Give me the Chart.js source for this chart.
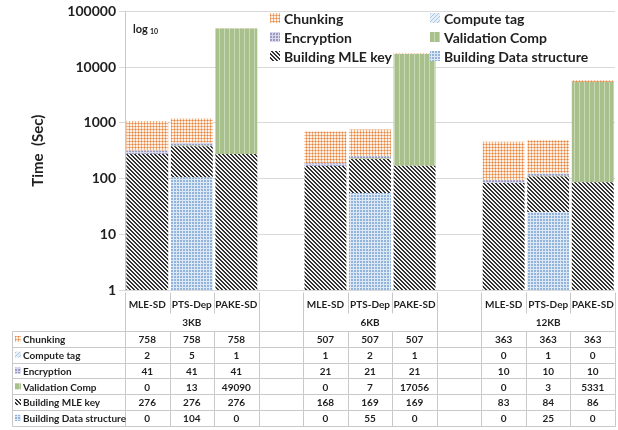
<!DOCTYPE html>
<html>
<head>
<meta charset="utf-8">
<script src="https://cdn.jsdelivr.net/npm/chart.js@4.4.0/dist/chart.umd.min.js"></script>
<style>
  html, body { margin: 0; padding: 0; background: #fff; }
</style>
</head>
<body>
<canvas id="chart" width="618" height="430"></canvas>
<script>
const sizes = ['3KB', '6KB', '12KB'];
const schemes = ['MLE-SD', 'PTS-Dep', 'PAKE-SD'];
const yTicks = [1, 10, 100, 1000, 10000, 100000];

// one value per bar: 3KB x3, 6KB x3, 12KB x3
const chunking = [758, 758, 758, 507, 507, 507, 363, 363, 363];
const computeTag = [2, 5, 1, 1, 2, 1, 0, 1, 0];
const encryption = [41, 41, 41, 21, 21, 21, 10, 10, 10];
const validationComp = [0, 13, 49090, 0, 7, 17056, 0, 3, 5331];
const buildingMleKey = [276, 276, 276, 168, 169, 169, 83, 84, 86];
const buildingDataStructure = [0, 104, 0, 0, 55, 0, 0, 25, 0];

const FONT = 'Lato, "Open Sans", sans-serif';

// empty spacer column between each size group
const labels = [];
sizes.forEach((size, g) => {
  schemes.forEach(s => labels.push(s));
  if (g < sizes.length - 1) labels.push('');
});

function spread(values) {
  const out = [];
  values.forEach((v, i) => {
    out.push(v);
    if (i % 3 === 2 && i < values.length - 1) out.push(null);
  });
  return out;
}

function makePattern(w, h, draw) {
  const c = document.createElement('canvas');
  c.width = w;
  c.height = h;
  const p = c.getContext('2d');
  draw(p);
  return document.getElementById('chart').getContext('2d').createPattern(c, 'repeat');
}

const patterns = {
  chunking: makePattern(3, 3, p => {
    p.fillStyle = '#fdf0e4'; p.fillRect(0, 0, 3, 3);
    p.fillStyle = '#f2b282'; p.fillRect(0, 0, 3, 1); p.fillRect(0, 0, 1, 3);
    p.fillStyle = '#e2834a'; p.fillRect(0, 0, 1, 1);
  }),
  computeTag: makePattern(4, 4, p => {
    p.fillStyle = '#e6eff8'; p.fillRect(0, 0, 4, 4);
    p.fillStyle = '#a9c6e4';
    for (let i = 0; i < 4; i++) p.fillRect(3 - i, i, 1, 1);
  }),
  encryption: makePattern(3, 3, p => {
    p.fillStyle = '#d8d8ea'; p.fillRect(0, 0, 3, 3);
    p.fillStyle = '#9b9bc4'; p.fillRect(0, 0, 2, 2);
  }),
  validation: makePattern(5, 1, p => {
    p.fillStyle = '#a8c18c'; p.fillRect(0, 0, 5, 1);
    p.fillStyle = '#c9d9b6'; p.fillRect(4, 0, 1, 1);
  }),
  mleKey: makePattern(4, 4, p => {
    p.fillStyle = '#f4f4f4'; p.fillRect(0, 0, 4, 4);
    p.fillStyle = '#333333';
    for (let i = 0; i < 4; i++) {
      p.fillRect(i, i, 1, 1);
      p.fillRect((i + 1) % 4, i, 1, 1);
    }
  }),
  dataStructure: makePattern(3, 3, p => {
    p.fillStyle = '#92b4dc'; p.fillRect(0, 0, 3, 3);
    p.fillStyle = '#dde8f5'; p.fillRect(2, 0, 1, 3); p.fillRect(0, 2, 3, 1);
  })
};

// stacking order: first entry sits at the bottom
const series = [
  { label: 'Building Data structure', values: buildingDataStructure, fill: patterns.dataStructure },
  { label: 'Building MLE key', values: buildingMleKey, fill: patterns.mleKey },
  { label: 'Validation Comp', values: validationComp, fill: patterns.validation },
  { label: 'Encryption', values: encryption, fill: patterns.encryption },
  { label: 'Compute tag', values: computeTag, fill: patterns.computeTag },
  { label: 'Chunking', values: chunking, fill: patterns.chunking }
];
const legendOrder = series.slice().reverse();

const legendPlugin = {
  id: 'gridLegend',
  afterDatasetsDraw(chart) {
    const ctx = chart.ctx;
    const colX = [270, 430];
    const rowY = [18, 37, 56];
    ctx.save();
    ctx.font = 'bold 14px ' + FONT;
    ctx.textBaseline = 'middle';
    legendOrder.forEach((s, i) => {
      const x = colX[i % 2];
      const y = rowY[Math.floor(i / 2)];
      ctx.fillStyle = s.fill;
      ctx.fillRect(x, y - 5, 10, 10);
      ctx.fillStyle = '#1f1f1f';
      ctx.fillText(s.label, x + 14, y + 1);
    });
    // log10 note
    ctx.fillStyle = '#1f1f1f';
    ctx.font = 'bold 11px ' + FONT;
    ctx.fillText('log', 133, 29);
    ctx.font = 'bold 7px ' + FONT;
    ctx.fillText('10', 150, 32);
    ctx.restore();
  }
};

const tablePlugin = {
  id: 'dataTable',
  afterDraw(chart) {
    const ctx = chart.ctx;
    const x = chart.scales.x;
    const n = labels.length;
    const colW = (chart.chartArea.right - chart.chartArea.left) / n;
    const edge = i => x.getPixelForValue(0) - colW / 2 + i * colW;
    const top = 292;
    const headMid = 313;
    const dataTop = 331;
    const rowH = 15.8;
    const tableLeft = 12;

    ctx.save();
    ctx.strokeStyle = '#c9c9c9';
    ctx.lineWidth = 1;
    const line = (x1, y1, x2, y2) => {
      ctx.beginPath();
      ctx.moveTo(Math.round(x1) + 0.5, Math.round(y1) + 0.5);
      ctx.lineTo(Math.round(x2) + 0.5, Math.round(y2) + 0.5);
      ctx.stroke();
    };

    // header grid
    sizes.forEach((size, g) => {
      const start = g * 4;
      for (let k = 0; k <= 3; k++) {
        const bottom = (k === 0 || k === 3) ? dataTop : headMid;
        line(edge(start + k), top, edge(start + k), bottom);
      }
    });

    // body grid
    const rows = legendOrder.length;
    for (let r = 0; r <= rows; r++) {
      line(tableLeft, dataTop + r * rowH, edge(n), dataTop + r * rowH);
    }
    const bottom = dataTop + rows * rowH;
    line(tableLeft, dataTop, tableLeft, bottom);
    for (let i = 0; i <= n; i++) line(edge(i), dataTop, edge(i), bottom);

    ctx.fillStyle = '#1f1f1f';
    ctx.textBaseline = 'middle';
    ctx.textAlign = 'center';
    ctx.font = 'bold 10px ' + FONT;
    labels.forEach((lab, i) => {
      if (lab) ctx.fillText(lab, x.getPixelForValue(i), 305);
    });
    sizes.forEach((size, g) => {
      ctx.fillText(size, x.getPixelForValue(g * 4 + 1), 323);
    });

    legendOrder.forEach((s, r) => {
      const y = dataTop + r * rowH + rowH / 2;
      ctx.fillStyle = s.fill;
      ctx.fillRect(tableLeft + 3, y - 3, 6, 6);
      ctx.fillStyle = '#1f1f1f';
      ctx.textAlign = 'left';
      ctx.fillText(s.label, tableLeft + 11, y + 1);
      ctx.textAlign = 'center';
      spread(s.values).forEach((v, i) => {
        if (v !== null) ctx.fillText(String(v), x.getPixelForValue(i), y + 1);
      });
    });
    ctx.restore();
  }
};

new Chart(document.getElementById('chart'), {
  type: 'bar',
  data: {
    labels: labels,
    datasets: series.map(s => ({
      label: s.label,
      data: spread(s.values),
      backgroundColor: s.fill,
      borderWidth: 0,
      barPercentage: 0.94,
      categoryPercentage: 1
    }))
  },
  options: {
    responsive: false,
    animation: false,
    layout: { padding: { left: 25, right: 3, top: 10, bottom: 140 } },
    plugins: {
      legend: { display: false },
      tooltip: { enabled: false }
    },
    scales: {
      x: { display: false, stacked: true, offset: true },
      y: {
        type: 'logarithmic',
        stacked: true,
        min: 1,
        max: 100000,
        afterFit: s => { s.width = 100; },
        afterBuildTicks: s => { s.ticks = yTicks.map(v => ({ value: v })); },
        ticks: {
          callback: v => String(v),
          color: '#1f1f1f',
          padding: 3,
          font: { family: FONT, size: 14, weight: 'bold' }
        },
        grid: { color: '#d9d9d9', tickLength: 6 },
        border: { color: '#c8c8c8' },
        title: {
          display: true,
          text: 'Time  (Sec)',
          color: '#1f1f1f',
          padding: 4,
          font: { family: FONT, size: 15, weight: 'bold' }
        }
      }
    }
  },
  plugins: [legendPlugin, tablePlugin]
});
</script>
</body>
</html>
